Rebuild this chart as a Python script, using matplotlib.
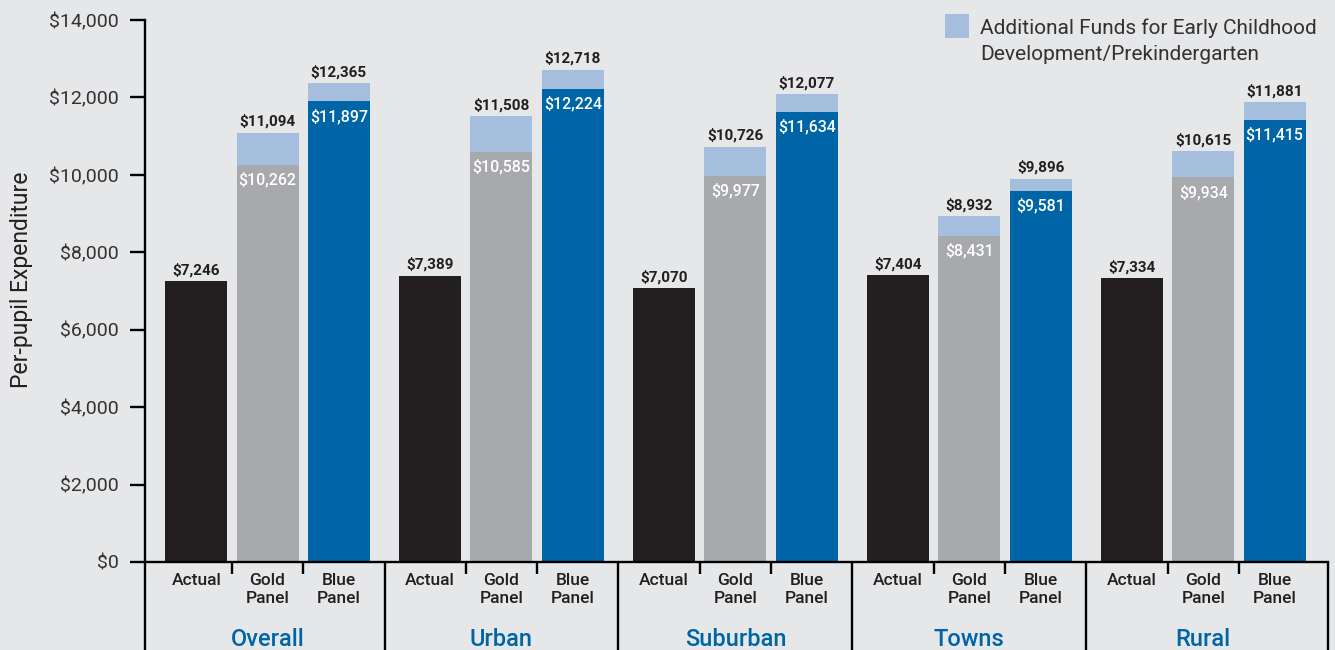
import matplotlib
matplotlib.use("Agg")
import matplotlib.pyplot as plt
from matplotlib.patches import Rectangle

plt.rcParams['font.family'] = ['Roboto', 'DejaVu Sans']

groups = ["Overall", "Urban", "Suburban", "Towns", "Rural"]
bar_labels = ["Actual", "Gold\nPanel", "Blue\nPanel"]
actual = [7246, 7389, 7070, 7404, 7334]
gold_base = [10262, 10585, 9977, 8431, 9934]
gold_total = [11094, 11508, 10726, 8932, 10615]
blue_base = [11897, 12224, 11634, 9581, 11415]
blue_total = [12365, 12718, 12077, 9896, 11881]
yticks = [0, 2000, 4000, 6000, 8000, 10000, 12000, 14000]
legend_label = "Additional Funds for Early Childhood\nDevelopment/Prekindergarten"

BG = "#e6e7e8"
C_ACT = "#231f20"
C_GOLD = "#a7a9ac"
C_BLUE = "#0065a6"
C_EXTRA = "#a6bedd"
C_TXT = "#231f20"

W, H = 1335, 650
fig = plt.figure(figsize=(W / 100, H / 100), dpi=100, facecolor=BG)
ax = fig.add_axes([145 / W, 88 / H, (1328 - 145) / W, 542 / H])
ax.set_facecolor(BG)

G = 3.283
bw = 0.87
centers = [i * G for i in range(len(groups))]
xl = (-1.72, centers[-1] + 1.75)

for i, c in enumerate(centers):
    ax.bar(c - 1, actual[i], width=bw, color=C_ACT, zorder=2)
    ax.bar(c, gold_base[i], width=bw, color=C_GOLD, zorder=2)
    ax.bar(c, gold_total[i] - gold_base[i], bottom=gold_base[i], width=bw, color=C_EXTRA, zorder=2)
    ax.bar(c + 1, blue_base[i], width=bw, color=C_BLUE, zorder=2)
    ax.bar(c + 1, blue_total[i] - blue_base[i], bottom=blue_base[i], width=bw, color=C_EXTRA, zorder=2)

    for x, v in [(c - 1, actual[i]), (c, gold_total[i]), (c + 1, blue_total[i])]:
        ax.annotate(f"${v:,}", (x, v), xytext=(0, 5), textcoords="offset points",
                    ha="center", va="baseline", fontsize=11, fontweight="bold", color=C_TXT)
    for x, v in [(c, gold_base[i]), (c + 1, blue_base[i])]:
        ax.annotate(f"${v:,}", (x, v), xytext=(0, -5), textcoords="offset points",
                    ha="center", va="top", fontsize=11.5, fontweight="medium", color="white")

ax.set_xlim(*xl)
ax.set_ylim(0, 14000)
ax.set_yticks(yticks)
ax.set_yticklabels([f"${v:,}" for v in yticks], fontsize=14, fontweight="normal", color="#333132")
ax.tick_params(axis="y", length=11, width=1.7, pad=8, color="black")

xpos = [c + d for c in centers for d in (-1, 0, 1)]
ax.set_xticks(xpos)
ax.set_xticklabels(bar_labels * len(groups), fontsize=12.5, fontweight="medium",
                   color=C_TXT, linespacing=1.2)
ax.tick_params(axis="x", length=0, pad=8)

for s in ("top", "right"):
    ax.spines[s].set_visible(False)
for s in ("left", "bottom"):
    ax.spines[s].set_linewidth(1.7)
    ax.spines[s].set_color("black")

tr = ax.get_xaxis_transform()
bounds = [xl[0]] + [(centers[i] + centers[i + 1]) / 2 for i in range(len(centers) - 1)] + [xl[1]]
for b in bounds:
    ax.plot([b, b], [0, -0.17], transform=tr, color="black", lw=1.7, clip_on=False,
            solid_capstyle="butt")
for c in centers:
    for d in (-0.5, 0.5):
        ax.plot([c + d, c + d], [0, -0.022], transform=tr, color="black", lw=1.7,
                clip_on=False, solid_capstyle="butt")
for c, g in zip(centers, groups):
    ax.text(c, -0.143, g, transform=tr, ha="center", va="center", fontsize=17,
            fontweight="medium", color=C_BLUE)

ax.set_ylabel("Per-pupil Expenditure", fontsize=16.5, color=C_TXT)
ax.yaxis.set_label_coords(-(145 - 33) / (1328 - 145), 0.52)

fig.patches.append(Rectangle((945 / W, 1 - 38 / H), 24 / W, 24 / H, transform=fig.transFigure,
                             facecolor=C_EXTRA, edgecolor="none"))
fig.text(980 / W, 1 - 18 / H, legend_label, ha="left", va="top", fontsize=15,
         fontweight="normal", color="#333132", linespacing=1.5)

fig.savefig("out.png", dpi=100, facecolor=BG)
